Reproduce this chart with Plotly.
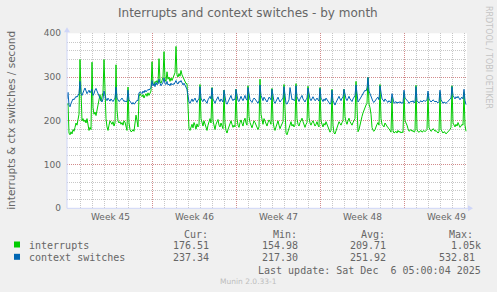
import pandas as pd
import plotly.graph_objects as go

W, H = 497, 292

# ---------------- data (2-hour samples, starting 2025-11-02 22:00) ----------------
start_time = "2025-11-02 22:00"
interrupts = [235,
    240, 172, 168, 175, 170, 180, 176, 185, 195, 190, 200, 215,   # Nov 3
    340, 250, 200, 205, 198, 202, 195, 205, 190, 178, 185, 180,   # Nov 4
    334, 230, 215, 220, 212, 225, 235, 250, 260, 245, 255, 265,   # Nov 5
    340, 262, 205, 186, 178, 190, 200, 196, 192, 198, 188, 195,   # Nov 6
    328, 225, 200, 195, 198, 192, 196, 190, 200, 197, 185, 178,   # Nov 7
    277, 195, 180, 175, 176, 180, 176, 205, 213, 200, 186, 255,   # Nov 8
    262, 258, 255, 260, 252, 258, 262, 256, 264, 258, 262, 268,   # Nov 9
    335, 285, 282, 290, 288, 292, 285, 342, 290, 286, 292, 300,   # Nov 10
    358, 295, 290, 312, 295, 300, 290, 298, 292, 300, 305, 310,   # Nov 11
    370, 305, 300, 308, 302, 315, 305, 300, 298, 290, 285, 285,   # Nov 12
    240, 182, 178, 186, 192, 184, 196, 190, 181, 193, 186, 190,   # Nov 13
    283, 205, 196, 188, 200, 192, 185, 178, 190, 198, 205, 195,   # Nov 14
    276, 200, 185, 180, 192, 198, 203, 190, 186, 195, 188, 182,   # Nov 15
    270, 195, 178, 172, 180, 188, 195, 200, 192, 185, 190, 186,   # Nov 16
    272, 205, 190, 185, 196, 202, 194, 188, 200, 206, 195, 190,   # Nov 17
    280, 210, 196, 188, 184, 192, 200, 196, 190, 185, 180, 186,   # Nov 18
    295, 215, 198, 192, 205, 200, 194, 188, 196, 202, 198, 192,   # Nov 19
    274, 200, 185, 178, 186, 195, 200, 190, 182, 188, 194, 198,   # Nov 20
    283, 196, 172, 168, 175, 185, 190, 198, 188, 192, 186, 190,   # Nov 21
    285, 205, 192, 188, 196, 200, 206, 198, 190, 185, 192, 196,   # Nov 22
    279, 208, 195, 190, 196, 200, 194, 188, 192, 198, 190, 186,   # Nov 23
    276, 200, 192, 186, 194, 190, 198, 192, 185, 180, 174, 178,   # Nov 24
    272, 190, 172, 170, 178, 186, 192, 198, 194, 190, 196, 200,   # Nov 25
    272, 210, 198, 192, 200, 206, 198, 192, 190, 196, 200, 205,   # Nov 26
    290, 200, 175, 180, 192, 200, 210, 218, 226, 232, 236, 240,   # Nov 27
    299, 238, 230, 215, 185, 178, 176, 180, 188, 192, 196, 190,   # Nov 28
    283, 205, 192, 190, 186, 195, 190, 188, 184, 182, 176, 174,   # Nov 29
    254, 178, 172, 175, 176, 172, 178, 174, 176, 172, 175, 173,   # Nov 30
    265, 200, 196, 190, 182, 176, 178, 180, 176, 178, 174, 176,   # Dec 1
    281, 180, 175, 174, 176, 178, 174, 176, 178, 175, 177, 180,   # Dec 2
    263, 185, 180, 176, 178, 182, 180, 176, 178, 174, 172, 175,   # Dec 3
    265, 180, 176, 172, 175, 174, 170, 172, 176, 178, 180, 185,   # Dec 4
    280, 195, 190, 186, 192, 188, 196, 190, 185, 188, 192, 190,   # Dec 5
    265, 190, 176]                                                # Dec 6

context_switches = [250,
    265, 236, 232, 240, 246, 250, 248, 252, 256, 254, 258, 262,   # Nov 3
    290, 262, 258, 266, 270, 275, 268, 262, 266, 270, 264, 268,   # Nov 4
    272, 258, 262, 270, 274, 268, 262, 258, 250, 246, 243, 250,   # Nov 5
    268, 256, 250, 246, 252, 248, 245, 250, 246, 244, 248, 252,   # Nov 6
    277, 252, 248, 244, 246, 250, 252, 248, 244, 246, 243, 245,   # Nov 7
    270, 248, 244, 240, 238, 242, 238, 240, 244, 247, 246, 264,   # Nov 8
    266, 265, 262, 268, 264, 270, 266, 268, 272, 270, 274, 276,   # Nov 9
    292, 280, 285, 278, 288, 282, 285, 295, 286, 280, 284, 288,   # Nov 10
    298, 285, 283, 290, 282, 284, 280, 286, 282, 285, 283, 288,   # Nov 11
    292, 286, 284, 290, 288, 292, 285, 282, 286, 280, 278, 272,   # Nov 12
    258, 243, 240, 246, 250, 244, 248, 252, 246, 242, 248, 250,   # Nov 13
    278, 252, 246, 244, 250, 247, 242, 240, 248, 252, 256, 250,   # Nov 14
    275, 250, 244, 240, 246, 252, 255, 248, 244, 250, 246, 243,   # Nov 15
    270, 248, 242, 238, 244, 250, 254, 258, 250, 246, 250, 248,   # Nov 16
    272, 252, 246, 244, 250, 256, 250, 246, 252, 258, 250, 247,   # Nov 17
    276, 255, 248, 245, 242, 248, 252, 250, 246, 244, 240, 246,   # Nov 18
    282, 258, 250, 246, 254, 250, 246, 243, 248, 254, 252, 248,   # Nov 19
    272, 250, 244, 240, 245, 250, 254, 248, 243, 246, 250, 252,   # Nov 20
    278, 252, 240, 238, 242, 248, 276, 256, 248, 250, 246, 248,   # Nov 21
    280, 255, 248, 244, 250, 254, 258, 250, 246, 243, 248, 252,   # Nov 22
    275, 256, 250, 246, 252, 255, 250, 246, 248, 252, 248, 245,   # Nov 23
    274, 252, 248, 244, 250, 246, 252, 248, 244, 242, 238, 242,   # Nov 24
    270, 246, 238, 236, 242, 248, 252, 256, 250, 246, 252, 254,   # Nov 25
    272, 258, 250, 246, 252, 256, 250, 246, 244, 250, 254, 258,   # Nov 26
    282, 255, 243, 246, 250, 254, 258, 262, 266, 270, 268, 275,   # Nov 27
    299, 268, 262, 255, 248, 244, 242, 246, 250, 252, 254, 248,   # Nov 28
    280, 256, 250, 248, 244, 250, 246, 244, 242, 246, 243, 241,   # Nov 29
    262, 245, 240, 242, 244, 240, 243, 241, 244, 240, 242, 240,   # Nov 30
    270, 252, 250, 246, 244, 240, 242, 245, 243, 246, 241, 243,   # Dec 1
    278, 246, 243, 241, 244, 246, 243, 245, 247, 244, 246, 248,   # Dec 2
    268, 250, 246, 243, 245, 248, 246, 243, 245, 242, 241, 244,   # Dec 3
    270, 248, 244, 240, 243, 242, 240, 242, 245, 247, 249, 252,   # Dec 4
    278, 258, 254, 250, 255, 252, 256, 252, 248, 252, 254, 250,   # Dec 5
    272, 246, 237]                                                # Dec 6

week_labels = ["Week 45", "Week 46", "Week 47", "Week 48", "Week 49"]
week_mondays = ["2025-11-03", "2025-11-10", "2025-11-17", "2025-11-24", "2025-12-01"]
y_ticks = [0, 100, 200, 300, 400]

series_names = ["interrupts", "context switches"]
series_colors = ["#00CC00", "#0066B3"]
stat_cur = ["176.51", "237.34"]
stat_min = ["154.98", "217.30"]
stat_avg = ["209.71", "251.92"]
stat_max = ["1.05k", "532.81"]

title_text = "Interrupts and context switches - by month"
y_title = "interrupts & ctx switches / second"
last_update = "Last update: Sat Dec\u00a0\u00a06 05:00:04 2025"

# ---------------- layout helpers ----------------
PL, PR, PT, PB = 67, 467, 33.3, 208.3   # plot area in pixels


def px(x):
    return x / W


def py(y):
    return 1 - y / H


FONT = "DejaVu Sans"
MONO = "DejaVu Sans Mono"
FCOL = "#666666"

times = pd.date_range(start_time, periods=len(interrupts), freq="2h")
times_b = pd.date_range(start_time, periods=len(context_switches), freq="2h")

fig = go.Figure()
fig.add_trace(go.Scatter(x=times, y=interrupts, mode="lines", name=series_names[0],
                         line=dict(color=series_colors[0], width=1), hoverinfo="skip"))
fig.add_trace(go.Scatter(x=times_b, y=context_switches, mode="lines", name=series_names[1],
                         line=dict(color=series_colors[1], width=1), hoverinfo="skip"))

x0 = pd.Timestamp(start_time)
x1 = x0 + pd.Timedelta(hours=800)

GRID = "rgba(143,143,143,0.5)"
MGRID = "rgba(222,79,79,0.5)"
DASH = "1px,1px"

fig.update_layout(
    width=W, height=H,
    margin=dict(l=0, r=0, t=0, b=0),
    paper_bgcolor="#F0F0F0",
    plot_bgcolor="#FFFFFF",
    showlegend=False,
    xaxis=dict(
        domain=[px(PL), px(PR)], range=[x0, x1], type="date", automargin=False,
        tickvals=week_mondays, showticklabels=False, ticks="",
        showgrid=True, gridcolor=MGRID, griddash=DASH, gridwidth=1,
        minor=dict(dtick=86400000, tick0="2025-11-03", showgrid=True,
                   gridcolor=GRID, griddash=DASH, gridwidth=1),
        showline=False, zeroline=False, fixedrange=True,
    ),
    yaxis=dict(
        domain=[py(PB), py(PT)], range=[0, 400], automargin=False,
        tickvals=y_ticks, ticktext=[str(v) for v in y_ticks], ticks="",
        tickfont=dict(family=FONT, size=9, color=FCOL), ticklabelstandoff=5,
        showgrid=True, gridcolor=MGRID, griddash=DASH, gridwidth=1,
        minor=dict(dtick=20, tick0=0, showgrid=True, gridcolor=GRID, griddash=DASH, gridwidth=1),
        showline=False, zeroline=False, fixedrange=True,
    ),
)

AX = "#CFD6F8"
shapes = [
    # axes
    dict(type="line", xref="paper", yref="paper", x0=px(PL), x1=px(PR + 3), y0=py(PB), y1=py(PB),
         line=dict(color=AX, width=1)),
    dict(type="line", xref="paper", yref="paper", x0=px(PL), x1=px(PL), y0=py(PB), y1=py(PT - 3),
         line=dict(color=AX, width=1)),
    # arrows
    dict(type="path", xref="paper", yref="paper",
         path=f"M {px(PR+1)} {py(PB-3)} L {px(PR+6)} {py(PB)} L {px(PR+1)} {py(PB+3)} Z",
         fillcolor=AX, line=dict(color=AX, width=0)),
    dict(type="path", xref="paper", yref="paper",
         path=f"M {px(PL-3)} {py(PT-1)} L {px(PL)} {py(PT-6)} L {px(PL+3)} {py(PT-1)} Z",
         fillcolor=AX, line=dict(color=AX, width=0)),
]
# legend colour boxes
for i, c in enumerate(series_colors):
    yc = 244.5 + 12.3 * i
    shapes.append(dict(type="rect", xref="paper", yref="paper",
                       x0=px(14), x1=px(20), y0=py(yc - 3), y1=py(yc + 3),
                       fillcolor=c, line=dict(width=0)))

ann = []


def text(x, y, s, anchor="left", font=FONT, size=10, color=FCOL, angle=0):
    ann.append(dict(x=px(x), y=py(y), xref="paper", yref="paper", text=s, showarrow=False,
                    xanchor=anchor, yanchor="middle", textangle=angle,
                    font=dict(family=font, size=size, color=color)))


text(247.5, 12.5, title_text, anchor="center", size=12)
text(11, (PT + PB) / 2, y_title, anchor="center", size=10.5, angle=-90)
text(489, 57, "RRDTOOL / TOBI OETIKER", anchor="center", size=8, color="#C4C4C4", angle=90)

# week labels under the x axis (centred mid-week)
for lab, mon in zip(week_labels, week_mondays):
    xc = pd.Timestamp(mon) + pd.Timedelta(hours=84)
    ann.append(dict(x=xc, y=py(216.5), xref="x", yref="paper", text=lab, showarrow=False,
                    xanchor="center", yanchor="middle",
                    font=dict(family=FONT, size=9, color=FCOL)))

# legend
text(182, 234, "Cur:", font=MONO)
text(271, 234, "Min:", font=MONO)
text(359, 234, "Avg:", font=MONO)
text(447, 234, "Max:", font=MONO)
for i, name in enumerate(series_names):
    yr = 245 + 12.3 * i
    text(27, yr, name, font=MONO)
    text(211, yr, stat_cur[i], anchor="right", font=MONO)
    text(300, yr, stat_min[i], anchor="right", font=MONO)
    text(388, yr, stat_avg[i], anchor="right", font=MONO)
    text(483 if stat_max[i].endswith("k") else 477, yr, stat_max[i], anchor="right", font=MONO)
text(483, 270, last_update, anchor="right", font=MONO)
text(248, 281, "Munin 2.0.33-1", anchor="center", size=7.5, color="#BDBDBD")

fig.update_layout(shapes=shapes, annotations=ann)
fig.write_html("out.html")
